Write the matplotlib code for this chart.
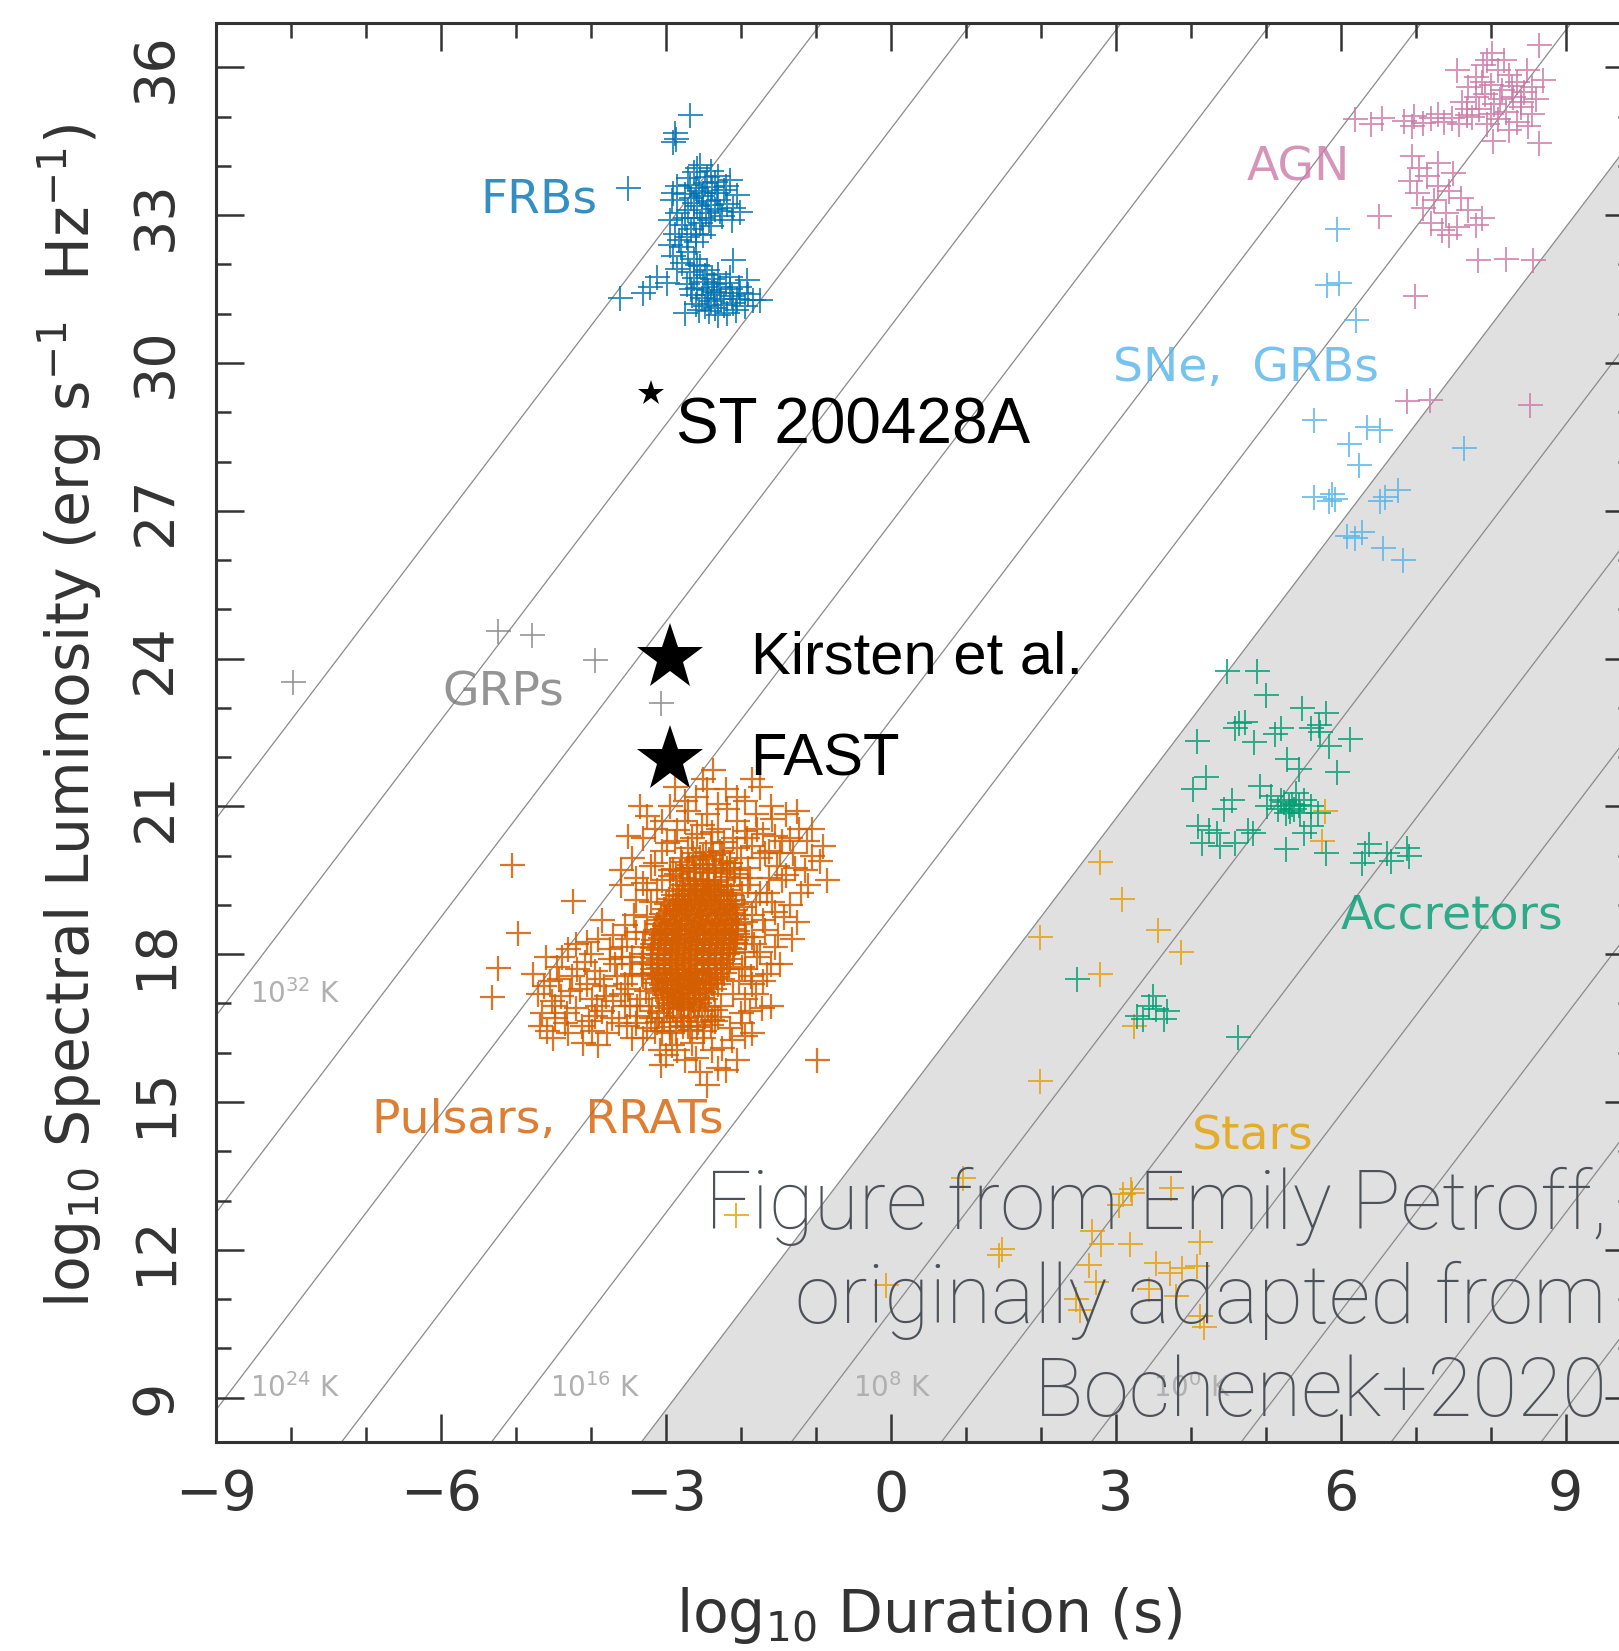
import numpy as np
import matplotlib
matplotlib.use("Agg")
import matplotlib.pyplot as plt
from matplotlib.ticker import MultipleLocator

# (log10 duration [s], log10 spectral luminosity [erg/s/Hz]) per source class
frbs = [
    (-2.68, 35.03), (-2.88, 34.66), (-2.90, 34.49), (-2.86, 34.55), (-3.50, 33.55),
    (-2.55, 34.02), (-2.62, 33.88), (-2.40, 33.90), (-2.30, 33.80), (-2.15, 33.72),
    (-2.71, 33.75), (-2.85, 33.60), (-2.48, 33.65), (-2.60, 33.55), (-2.38, 33.58),
    (-2.22, 33.52), (-2.05, 33.40), (-2.01, 33.07), (-2.75, 33.42), (-2.92, 33.30),
    (-2.66, 33.35), (-2.52, 33.38), (-2.44, 33.28), (-2.30, 33.30), (-2.18, 33.22),
    (-2.58, 33.18), (-2.70, 33.10), (-2.85, 33.05), (-2.95, 32.90), (-2.62, 32.95),
    (-2.47, 33.05), (-2.35, 33.12), (-2.25, 32.98), (-2.12, 32.90), (-2.78, 32.80),
    (-2.66, 32.72), (-2.55, 32.85), (-2.88, 32.62), (-2.40, 32.78), (-2.72, 32.55),
    (-2.60, 32.45), (-2.50, 32.60), (-2.32, 33.45), (-2.56, 33.50), (-2.45, 33.78),
    (-2.58, 33.95), (-2.35, 33.68), (-2.68, 33.62), (-2.50, 33.45), (-2.62, 33.25),
    (-2.40, 33.20), (-2.28, 33.08), (-2.75, 32.95), (-2.52, 32.95), (-2.42, 32.90),
    (-2.60, 32.62), (-2.83, 32.50), (-2.20, 33.60), (-2.10, 33.15), (-2.90, 33.45),
    (-2.80, 32.35), (-2.70, 32.25), (-2.90, 32.18), (-2.62, 32.12), (-2.78, 32.02),
    (-2.85, 31.90), (-2.68, 31.85), (-2.58, 31.98), (-2.11, 32.09), (-2.95, 32.40),
    (-2.55, 31.96), (-2.45, 31.88), (-2.30, 31.80), (-2.62, 31.72), (-2.50, 31.65),
    (-2.38, 31.70), (-2.20, 31.62), (-2.72, 31.60), (-2.58, 31.52), (-2.44, 31.48),
    (-2.32, 31.42), (-2.15, 31.50), (-1.92, 31.69), (-2.01, 31.42), (-2.65, 31.38),
    (-2.52, 31.32), (-2.40, 31.25), (-2.26, 31.30), (-2.10, 31.22), (-1.84, 31.28),
    (-1.75, 31.28), (-2.48, 31.15), (-2.35, 31.12), (-2.19, 31.01), (-2.06, 31.08),
    (-2.75, 31.01), (-2.60, 31.20), (-2.28, 31.55), (-2.12, 31.35), (-1.95, 31.15),
    (-2.42, 31.05), (-2.30, 30.98), (-2.66, 31.50), (-2.02, 31.55), (-2.36, 31.60),
    (-2.45, 31.38), (-2.22, 31.18), (-2.56, 31.08), (-2.05, 31.30), (-1.90, 31.40),
    (-2.36, 31.45), (-2.48, 31.78), (-2.15, 31.75),
    (-3.61, 31.32), (-3.21, 31.55), (-3.12, 31.75), (-3.30, 31.42), (-2.98, 31.62),
]

pulsars = [
    # dense core
    (-3.05, 16.45), (-2.95, 16.52), (-2.86, 16.44), (-2.77, 16.55), (-2.68, 16.47), (-2.58, 16.53), (-2.49, 16.45), (-2.40, 16.56),
    (-3.12, 16.63), (-3.03, 16.70), (-2.94, 16.62), (-2.85, 16.74), (-2.76, 16.65), (-2.66, 16.72), (-2.57, 16.63), (-2.48, 16.75), (-2.39, 16.66), (-2.30, 16.73),
    (-3.18, 16.85), (-3.09, 16.80), (-2.99, 16.91), (-2.52, 16.84), (-2.44, 16.93), (-2.35, 16.86), (-2.26, 16.95),
    (-2.90, 16.88), (-2.80, 16.92), (-2.70, 16.87), (-2.61, 16.91),
    (-2.97, 17.02), (-2.90, 16.97), (-2.83, 17.04), (-2.76, 16.99), (-2.69, 17.03), (-2.62, 16.96), (-2.56, 17.01),
    (-3.04, 17.12), (-2.95, 17.08), (-2.87, 17.13), (-2.79, 17.09), (-2.71, 17.11), (-2.64, 17.07), (-2.55, 17.12), (-2.48, 17.10),
    (-3.10, 17.21), (-3.02, 17.18), (-2.93, 17.23), (-2.85, 17.19), (-2.77, 17.22), (-2.68, 17.17), (-2.60, 17.21), (-2.51, 17.24), (-2.43, 17.19),
    (-3.13, 17.29), (-3.05, 17.32), (-2.97, 17.28), (-2.88, 17.31), (-2.80, 17.27), (-2.71, 17.33), (-2.63, 17.30), (-2.54, 17.27), (-2.46, 17.32), (-2.36, 17.29),
    (-3.15, 17.41), (-3.07, 17.38), (-2.98, 17.43), (-2.90, 17.40), (-2.81, 17.37), (-2.73, 17.42), (-2.64, 17.39), (-2.56, 17.44), (-2.47, 17.38), (-2.38, 17.41), (-2.30, 17.39),
    (-3.17, 17.49), (-3.09, 17.52), (-3.00, 17.48), (-2.92, 17.51), (-2.83, 17.47), (-2.75, 17.53), (-2.66, 17.50), (-2.57, 17.46), (-2.49, 17.51), (-2.40, 17.48), (-2.32, 17.53), (-2.25, 17.50),
    (-3.18, 17.61), (-3.10, 17.58), (-3.01, 17.63), (-2.93, 17.59), (-2.84, 17.62), (-2.76, 17.57), (-2.67, 17.61), (-2.59, 17.64), (-2.50, 17.58), (-2.42, 17.62), (-2.33, 17.59), (-2.23, 17.61),
    (-3.19, 17.69), (-3.11, 17.72), (-3.02, 17.68), (-2.94, 17.71), (-2.85, 17.67), (-2.77, 17.73), (-2.68, 17.70), (-2.60, 17.66), (-2.51, 17.71), (-2.43, 17.68), (-2.34, 17.72), (-2.26, 17.69), (-2.18, 17.71),
    (-3.20, 17.81), (-3.12, 17.78), (-3.03, 17.83), (-2.95, 17.79), (-2.86, 17.82), (-2.78, 17.77), (-2.69, 17.81), (-2.61, 17.84), (-2.52, 17.78), (-2.44, 17.82), (-2.35, 17.79), (-2.27, 17.83), (-2.16, 17.80),
    (-3.19, 17.92), (-3.10, 17.88), (-3.02, 17.91), (-2.93, 17.87), (-2.85, 17.93), (-2.76, 17.89), (-2.68, 17.92), (-2.59, 17.88), (-2.51, 17.91), (-2.42, 17.87), (-2.34, 17.93), (-2.25, 17.89), (-2.14, 17.91),
    (-3.20, 18.01), (-3.11, 17.98), (-3.03, 18.03), (-2.94, 17.99), (-2.86, 18.02), (-2.77, 17.97), (-2.69, 18.01), (-2.60, 18.04), (-2.52, 17.98), (-2.43, 18.02), (-2.35, 17.99), (-2.26, 18.03), (-2.18, 18.00), (-2.11, 18.02),
    (-3.19, 18.12), (-3.10, 18.08), (-3.01, 18.11), (-2.93, 18.07), (-2.84, 18.13), (-2.76, 18.09), (-2.67, 18.12), (-2.58, 18.08), (-2.50, 18.11), (-2.41, 18.07), (-2.33, 18.13), (-2.24, 18.09), (-2.16, 18.12), (-2.09, 18.10),
    (-3.18, 18.21), (-3.09, 18.18), (-3.01, 18.23), (-2.92, 18.19), (-2.84, 18.22), (-2.75, 18.17), (-2.67, 18.21), (-2.58, 18.24), (-2.50, 18.18), (-2.41, 18.22), (-2.33, 18.19), (-2.24, 18.23), (-2.15, 18.20), (-2.08, 18.22),
    (-3.17, 18.29), (-3.08, 18.32), (-3.00, 18.28), (-2.91, 18.31), (-2.83, 18.27), (-2.74, 18.33), (-2.66, 18.30), (-2.57, 18.26), (-2.49, 18.31), (-2.40, 18.28), (-2.32, 18.32), (-2.23, 18.29), (-2.14, 18.31), (-2.06, 18.28),
    (-3.16, 18.41), (-3.07, 18.38), (-2.99, 18.43), (-2.90, 18.39), (-2.82, 18.42), (-2.73, 18.37), (-2.65, 18.41), (-2.56, 18.44), (-2.48, 18.38), (-2.39, 18.42), (-2.31, 18.39), (-2.22, 18.43), (-2.13, 18.40), (-2.05, 18.42),
    (-3.14, 18.49), (-3.05, 18.52), (-2.97, 18.48), (-2.88, 18.51), (-2.80, 18.47), (-2.71, 18.53), (-2.63, 18.50), (-2.54, 18.46), (-2.46, 18.51), (-2.37, 18.48), (-2.29, 18.52), (-2.20, 18.49), (-2.12, 18.51), (-2.05, 18.48),
    (-3.12, 18.61), (-3.03, 18.58), (-2.95, 18.63), (-2.86, 18.59), (-2.78, 18.62), (-2.69, 18.57), (-2.61, 18.61), (-2.52, 18.64), (-2.44, 18.58), (-2.35, 18.62), (-2.27, 18.59), (-2.18, 18.63), (-2.10, 18.60), (-2.04, 18.62),
    (-3.09, 18.69), (-3.01, 18.72), (-2.92, 18.68), (-2.84, 18.71), (-2.75, 18.67), (-2.67, 18.73), (-2.58, 18.70), (-2.50, 18.66), (-2.41, 18.71), (-2.33, 18.68), (-2.24, 18.72), (-2.16, 18.69), (-2.07, 18.71),
    (-3.06, 18.81), (-2.98, 18.78), (-2.89, 18.83), (-2.81, 18.79), (-2.72, 18.82), (-2.64, 18.77), (-2.55, 18.81), (-2.47, 18.84), (-2.38, 18.78), (-2.30, 18.82), (-2.21, 18.79), (-2.13, 18.83), (-2.05, 18.80),
    (-3.03, 18.92), (-2.95, 18.88), (-2.86, 18.91), (-2.78, 18.87), (-2.69, 18.93), (-2.61, 18.89), (-2.52, 18.92), (-2.44, 18.88), (-2.35, 18.91), (-2.27, 18.87), (-2.18, 18.93), (-2.08, 18.90),
    (-3.00, 19.01), (-2.91, 18.98), (-2.83, 19.03), (-2.74, 18.99), (-2.66, 19.02), (-2.57, 18.97), (-2.49, 19.01), (-2.40, 19.04), (-2.32, 18.98), (-2.23, 19.02), (-2.15, 18.99), (-2.07, 19.01),
    (-2.96, 19.12), (-2.87, 19.08), (-2.79, 19.11), (-2.70, 19.07), (-2.62, 19.13), (-2.53, 19.09), (-2.45, 19.12), (-2.36, 19.08), (-2.28, 19.11), (-2.19, 19.07), (-2.10, 19.10),
    (-2.91, 19.21), (-2.82, 19.18), (-2.74, 19.23), (-2.65, 19.19), (-2.57, 19.22), (-2.48, 19.17), (-2.40, 19.21), (-2.31, 19.24), (-2.23, 19.18), (-2.13, 19.21),
    (-2.85, 19.29), (-2.77, 19.32), (-2.68, 19.28), (-2.60, 19.31), (-2.51, 19.27), (-2.43, 19.33), (-2.34, 19.30), (-2.26, 19.26), (-2.17, 19.31),
    (-2.78, 19.41), (-2.70, 19.38), (-2.61, 19.43), (-2.53, 19.39), (-2.44, 19.42), (-2.36, 19.37), (-2.27, 19.41), (-2.19, 19.39),
    (-2.68, 19.49), (-2.60, 19.52), (-2.51, 19.48), (-2.43, 19.51), (-2.34, 19.47), (-2.26, 19.50),
    (-2.95, 19.58), (-2.86, 19.62), (-2.77, 19.55), (-2.18, 19.57), (-2.09, 19.63), (-2.01, 19.55),
    (-2.90, 19.72), (-2.81, 19.68), (-2.72, 19.75), (-2.63, 19.66), (-2.54, 19.73), (-2.45, 19.64),
    (-2.36, 19.76), (-2.27, 19.67), (-2.18, 19.74), (-2.08, 19.70),
    (-2.78, 19.88), (-2.69, 19.82), (-2.60, 19.91), (-2.51, 19.84), (-2.42, 19.93), (-2.33, 19.81),
    (-2.24, 19.89), (-2.15, 19.85),
    (-2.64, 20.05), (-2.55, 19.98), (-2.46, 20.08), (-2.37, 20.01), (-2.28, 20.10),
    (-3.30, 17.55), (-3.32, 17.85), (-3.31, 18.15), (-3.28, 18.45), (-3.25, 18.75), (-3.20, 19.05),
    (-3.12, 19.30), (-3.05, 19.50), (-3.27, 17.25), (-3.22, 16.95),
    (-1.98, 17.75), (-1.95, 18.05), (-1.93, 18.35), (-1.94, 18.65), (-1.96, 18.95), (-1.99, 19.25),
    (-2.02, 17.45), (-2.10, 17.20), (-1.88, 19.55), (-1.85, 18.80), (-1.83, 18.20), (-1.87, 17.55),
    # halo
    (-3.45, 19.95), (-3.30, 20.35), (-3.20, 19.80), (-3.05, 20.10), (-3.15, 20.55), (-2.95, 19.70),
    (-2.88, 20.30), (-2.80, 19.95), (-2.75, 20.70), (-2.70, 20.15), (-2.62, 19.75), (-2.58, 20.45),
    (-2.50, 20.00), (-2.45, 20.85), (-2.40, 20.25), (-2.35, 19.70), (-2.30, 20.55), (-2.25, 20.05),
    (-2.18, 20.95), (-2.15, 19.85), (-2.10, 20.35), (-2.05, 20.70), (-2.00, 19.95), (-1.95, 20.50),
    (-1.90, 19.75), (-1.85, 20.20), (-1.80, 20.85), (-1.75, 19.95), (-1.70, 20.45), (-1.62, 20.10),
    (-1.58, 20.75), (-1.52, 19.80), (-1.45, 20.30), (-1.40, 19.60), (-1.30, 20.05), (-1.22, 20.55),
    (-1.15, 19.70), (-1.12, 20.30), (-1.05, 20.00), (-0.85, 19.51), (-0.95, 19.90),
    (-2.37, 21.74), (-2.88, 21.40), (-1.75, 21.40), (-2.60, 21.20), (-2.20, 21.35), (-2.95, 21.00),
    (-1.95, 21.10), (-2.50, 21.55), (-1.60, 21.00), (-2.75, 21.10), (-3.25, 20.80), (-2.30, 21.05),
    (-1.40, 20.85), (-3.50, 20.40), (-1.10, 19.40),
    (-3.40, 19.55), (-3.15, 19.85), (-2.98, 20.25), (-2.85, 20.52), (-2.65, 20.35), (-2.52, 20.62),
    (-2.38, 20.48), (-2.22, 20.28), (-2.05, 20.15), (-1.92, 20.35), (-1.78, 20.55), (-1.68, 20.05),
    (-1.55, 20.40), (-1.48, 20.05), (-1.35, 20.35), (-1.28, 19.75), (-1.62, 19.55), (-1.75, 19.25),
    (-1.58, 19.05), (-1.42, 18.75), (-1.68, 18.50), (-1.55, 18.15), (-1.78, 17.95), (-1.65, 17.60),
    (-1.80, 17.20), (-1.72, 16.90), (-1.98, 16.60), (-2.12, 16.25), (-2.38, 16.05), (-2.65, 16.20),
    (-2.92, 16.15), (-3.15, 16.45), (-3.40, 16.60), (-3.48, 16.95), (-3.55, 17.40), (-3.45, 17.95),
    (-3.52, 18.30), (-3.42, 18.80), (-3.30, 19.45), (-3.60, 19.70), (-2.70, 20.90), (-2.05, 21.20),
    (-1.85, 21.55), (-2.45, 21.35), (-3.05, 20.70), (-3.35, 21.00), (-1.25, 20.90), (-1.05, 20.55),
    (-0.90, 20.20), (-1.20, 19.25), (-1.32, 18.30), (-1.48, 17.80), (-1.60, 16.95), (-1.85, 16.40),
    (-2.20, 15.65), (-2.55, 15.60), (-2.75, 15.85), (-3.00, 15.95),
    (-1.90, 19.40), (-1.80, 19.05), (-1.70, 18.70), (-1.85, 18.35), (-1.65, 19.25), (-1.55, 18.85),
    (-1.75, 18.05), (-1.95, 17.70), (-1.60, 17.80), (-1.45, 19.50), (-1.35, 19.00), (-1.50, 18.40),
    (-1.85, 17.40), (-1.95, 17.10), (-1.25, 18.65), (-1.70, 17.45), (-1.88, 16.85),
    (-3.20, 16.70), (-3.06, 15.75), (-2.95, 16.40), (-2.85, 16.05), (-2.70, 16.55), (-2.60, 15.90),
    (-2.45, 15.35), (-2.50, 16.30), (-2.35, 16.65), (-2.25, 16.10), (-2.15, 16.50), (-2.05, 15.85),
    (-1.95, 16.35), (-2.30, 15.70), (-2.80, 16.70), (-0.99, 15.86), (-3.30, 16.30), (-2.00, 16.80),
    # short-duration tail
    (-4.77, 17.60), (-4.70, 17.20), (-4.65, 16.80), (-4.60, 17.95), (-4.59, 16.44), (-4.55, 17.45),
    (-4.48, 16.95), (-4.45, 17.75), (-4.40, 17.15), (-4.35, 16.60), (-4.30, 18.10), (-4.25, 17.55),
    (-4.20, 16.90), (-4.15, 17.30), (-4.10, 16.20), (-4.08, 17.85), (-4.02, 16.65), (-3.98, 17.10),
    (-3.95, 17.65), (-3.90, 18.30), (-3.85, 16.85), (-3.82, 17.35), (-3.78, 16.40), (-3.75, 17.90),
    (-3.70, 17.05), (-3.65, 17.55), (-3.62, 16.60), (-3.58, 18.15), (-3.55, 16.95), (-3.50, 17.30),
    (-3.48, 17.80), (-3.45, 16.30), (-3.40, 18.45), (-3.38, 16.75), (-3.35, 17.10), (-3.32, 17.60),
    (-3.30, 18.00), (-3.25, 16.50), (-3.40, 19.10), (-3.55, 18.60), (-3.70, 18.40), (-3.60, 19.40),
    (-3.25, 19.30), (-4.50, 16.30), (-4.30, 16.40), (-3.08, 16.05), (-3.90, 16.15), (-4.00, 18.00),
    (-4.20, 18.20), (-3.85, 18.70),
    (-4.62, 17.35), (-4.52, 17.05), (-4.42, 17.50), (-4.32, 16.80), (-4.28, 17.25), (-4.18, 17.70),
    (-4.12, 16.55), (-4.05, 17.40), (-3.92, 16.95), (-3.88, 17.50), (-3.80, 17.15), (-3.72, 16.70),
    (-3.68, 17.80), (-3.60, 17.20), (-3.52, 16.55), (-3.45, 17.60), (-3.38, 16.95), (-4.38, 17.95),
    (-3.98, 16.45), (-4.68, 16.55), (-3.58, 17.95), (-4.05, 18.25), (-3.75, 18.10), (-4.48, 16.70),
    (-3.95, 16.75),
    (-5.05, 19.82), (-4.24, 19.07), (-4.97, 18.44), (-5.24, 17.73), (-5.32, 17.13),
]

agn = [
    (8.64, 36.45), (7.95, 36.15),
    (8.02, 36.30), (7.90, 36.05), (8.10, 35.95), (8.25, 35.85), (7.80, 35.80), (8.35, 35.70),
    (8.00, 35.65), (7.70, 35.60), (8.15, 35.55), (8.45, 35.50), (7.92, 35.45), (8.30, 35.40),
    (8.60, 35.35), (7.62, 35.30), (8.05, 35.25), (8.40, 35.20), (7.85, 35.15), (8.20, 35.10),
    (8.55, 35.05), (7.75, 35.00), (8.10, 34.95), (8.35, 34.90), (7.95, 34.85), (8.50, 34.80),
    (8.25, 34.72), (8.03, 34.50), (8.64, 34.46), (8.70, 35.75), (8.18, 36.15), (7.55, 35.95),
    (8.48, 35.95), (7.88, 35.70), (8.28, 35.62), (8.12, 35.35), (7.80, 35.40), (8.40, 35.30),
    (8.55, 35.60), (8.00, 35.05), (7.68, 35.15),
    (6.19, 34.95), (6.40, 34.85), (6.55, 34.98), (6.85, 34.92), (6.98, 35.02), (7.10, 34.88),
    (7.20, 34.97), (7.30, 35.05), (7.38, 34.90), (7.48, 34.98), (7.58, 34.86), (7.68, 35.03),
    (6.95, 34.80),
    (6.95, 34.20), (7.05, 33.95), (6.92, 33.70), (7.15, 33.80), (7.30, 33.60), (7.02, 33.45),
    (7.45, 33.50), (7.25, 33.30), (7.60, 33.35), (7.10, 33.15), (7.40, 33.05), (7.70, 33.10),
    (7.20, 32.85), (7.35, 32.70), (7.55, 32.75), (7.80, 32.80), (7.45, 32.60), (7.88, 32.95),
    (7.30, 34.05), (7.50, 33.85),
    (6.51, 32.98), (7.83, 32.09), (8.20, 32.12), (8.56, 32.09), (6.99, 31.35),
    (6.88, 29.22), (7.19, 29.25), (8.53, 29.14),
]

sne_grbs = [
    (5.95, 32.72), (5.82, 31.58), (5.98, 31.62), (6.21, 30.88), (5.64, 28.84), (6.35, 28.71),
    (6.53, 28.63), (6.11, 28.36), (6.24, 27.93), (7.64, 28.28), (5.64, 27.28), (5.88, 27.35),
    (5.85, 27.20), (5.93, 27.24), (6.77, 27.43), (6.53, 27.20), (6.59, 27.28), (6.08, 26.48),
    (6.29, 26.56), (6.19, 26.45), (6.56, 26.25), (6.83, 26.00),
]

accretors = [
    (4.49, 23.74), (4.88, 23.74), (5.00, 23.27), (5.48, 23.00), (5.80, 22.90), (5.71, 22.66),
    (4.64, 22.70), (4.59, 22.60), (4.73, 22.72), (5.21, 22.60), (5.12, 22.46), (4.85, 22.30),
    (4.08, 22.32), (6.13, 22.36), (5.84, 22.22), (5.72, 22.50), (5.60, 22.60), (5.95, 21.69),
    (5.29, 21.96), (5.45, 21.75), (4.20, 21.59), (4.03, 21.35), (4.93, 21.41), (5.07, 21.21),
    (5.21, 21.14), (5.31, 21.00), (5.46, 20.87), (5.51, 21.14), (5.60, 21.00), (5.41, 21.28),
    (5.27, 20.87), (5.16, 20.94), (5.02, 21.00), (5.70, 20.87), (4.55, 21.14), (4.45, 20.94),
    (4.10, 20.60), (4.25, 20.53), (4.35, 20.46), (4.15, 20.26), (4.39, 20.19), (4.59, 20.26),
    (4.83, 20.46), (4.76, 20.53), (5.27, 20.13), (5.51, 20.46), (5.80, 20.06), (5.60, 20.60),
    (6.33, 20.06), (6.38, 20.23), (6.62, 20.06), (6.89, 20.16), (6.91, 19.99), (6.28, 19.86),
    (6.67, 19.89), (5.35, 21.05), (5.38, 20.95), (5.25, 21.08), (5.44, 21.02), (5.33, 20.90),
    (2.48, 17.49), (3.28, 16.74), (3.45, 16.95), (3.50, 17.15), (3.54, 16.88), (3.68, 16.85),
    (3.65, 16.68), (3.36, 16.68), (4.63, 16.31),
]

stars = [
    (2.79, 19.87), (3.09, 19.13), (1.99, 18.34), (3.56, 18.50), (3.87, 18.04), (2.79, 17.59),
    (3.25, 16.54), (1.99, 15.42), (5.79, 20.90), (5.75, 20.30),
    (0.97, 13.45), (3.21, 13.23), (3.10, 13.13), (3.74, 13.26), (3.22, 13.15), (1.48, 12.01),
    (2.69, 12.38), (2.81, 12.11), (3.19, 12.11), (2.65, 11.70), (3.54, 11.74), (3.72, 11.54),
    (3.89, 11.64), (4.12, 12.15), (4.09, 11.67), (2.74, 11.34), (2.47, 11.00), (3.45, 11.20),
    (3.80, 11.07), (4.12, 10.66), (-2.06, 12.71), (1.45, 11.89), (-0.07, 11.28), (2.53, 10.78),
    (4.18, 10.43), (3.05, 12.92),
]

grps = [(-7.97, 23.53), (-5.24, 24.55), (-4.79, 24.47), (-3.95, 23.98), (-3.07, 23.10)]

# SGR 1935+2154 bursts
burst_names = ["ST 200428A", "Kirsten et al.", "FAST"]
burst_logt = [-3.20, -2.95, -2.95]
burst_logl = [29.40, 24.02, 21.94]

# constant brightness temperature lines, log10(T_B / K)
tb_lines = [-12, -8, -4, 0, 4, 8, 12, 16, 20, 24, 28, 32, 36]
tb_offset = 2.75
compton_limit = 12

colors = {
    "FRBs": "#0072b2",
    "AGN": "#cc79a7",
    "SNe": "#56b4e9",
    "Pulsars": "#d55e00",
    "Accretors": "#009e73",
    "Stars": "#e69f00",
    "GRPs": "#7a7a7a",
}

W, H = 1619, 1651
fig = plt.figure(figsize=(W / 100, H / 100), dpi=100)
ax = fig.add_axes([216 / W, 1 - 1442 / H, (1633 - 216) / W, (1442 - 23) / H])
ax.set_xlim(-9, 9.9)
ax.set_ylim(8.1, 36.9)

xs = np.array([-12.0, 12.0])
ax.fill_between(xs, 0, 2 * xs + compton_limit + tb_offset, color="#e0e0e0", lw=0, zorder=0.5)
for tb in tb_lines:
    ax.plot(xs, 2 * xs + tb + tb_offset, color="#8a8a8a", lw=0.9, zorder=1)

tb_kw = dict(color="#b0b0b0", fontsize=20, va="center", ha="left", zorder=1.5)
ax.text(-8.55, 17.2, r"10$^{32}$ K", **tb_kw)
for lbl, xpos in [("24", -8.55), ("16", -4.55), ("8", -0.5), ("0", 3.5)]:
    ax.text(xpos, 9.2, r"10$^{%s}$ K" % lbl, **tb_kw)


def crosses(pts, color, mew=1.4, alpha=0.8):
    a = np.array(pts)
    ax.plot(a[:, 0], a[:, 1], "+", color=color, ms=18, mew=mew, alpha=alpha, zorder=3)


crosses(stars, colors["Stars"])
crosses(accretors, colors["Accretors"])
crosses(sne_grbs, colors["SNe"])
crosses(agn, colors["AGN"])
crosses(pulsars, colors["Pulsars"], mew=1.6, alpha=0.85)
crosses(frbs, colors["FRBs"])
crosses(grps, colors["GRPs"], mew=1.2)

ax.plot(burst_logt[0], burst_logl[0], "*", color="k", ms=19, mew=0, zorder=6)
ax.plot(burst_logt[1:], burst_logl[1:], "*", color="k", ms=50, mew=0, zorder=6)
bk = dict(family="Liberation Sans", color="k", va="center", ha="left", zorder=6)
ax.text(-2.86, 28.71, burst_names[0], fontsize=46, **bk)
ax.text(-1.87, 24.02, burst_names[1], fontsize=43, **bk)
ax.text(-1.87, 21.94, burst_names[2], fontsize=43, **bk)

lab = dict(fontsize=34, ha="center", va="center", zorder=4, alpha=0.8)
ax.text(-4.70, 33.31, "FRBs", color=colors["FRBs"], **lab)
ax.text(5.44, 33.95, "AGN", color=colors["AGN"], **lab)
ax.text(4.74, 29.89, "SNe,  GRBs", color=colors["SNe"], **lab)
ax.text(-5.17, 23.31, "GRPs", color=colors["GRPs"], **lab)
ax.text(-4.58, 14.62, "Pulsars,  RRATs", color=colors["Pulsars"], **lab)
ax.text(7.48, 18.77, "Accretors", color=colors["Accretors"], **lab)
ax.text(4.83, 14.30, "Stars", color=colors["Stars"], **lab)

# axes frame and ticks
for sp in ax.spines.values():
    sp.set_linewidth(2.2)
    sp.set_color("#333333")
ax.xaxis.set_major_locator(MultipleLocator(3))
ax.xaxis.set_minor_locator(MultipleLocator(1))
ax.yaxis.set_major_locator(MultipleLocator(3))
ax.yaxis.set_minor_locator(MultipleLocator(1))
ax.tick_params(which="both", direction="in", top=True, right=True, color="#333333", width=1.8)
ax.tick_params(which="major", length=20)
ax.tick_params(which="minor", length=11)
ax.tick_params(axis="x", labelsize=40, pad=19, labelcolor="#333333")
ax.tick_params(axis="y", labelsize=40, pad=24, labelcolor="#333333")
ax.set_xticks([-9, -6, -3, 0, 3, 6, 9])
ax.set_xticklabels(["\u22129", "\u22126", "\u22123", "0", "3", "6", "9"])
ax.set_yticks([9, 12, 15, 18, 21, 24, 27, 30, 33, 36])
ax.set_yticklabels([str(v) for v in range(9, 37, 3)], rotation=90, va="center")

fig.text(90 / W, 1 - 716 / H, r"log$_{10}$ Spectral Luminosity (erg s$^{-1}$  Hz$^{-1}$)",
         rotation=90, rotation_mode="anchor", ha="center", va="baseline",
         fontsize=42, color="#333333")
fig.text(929 / W, 1 - 1632 / H, r"log$_{10}$ Duration (s)", ha="center", va="baseline",
         fontsize=42, color="#333333")

note = dict(ha="right", va="baseline", fontsize=59, family="Roboto", fontweight="light",
            color="#4d525a", zorder=10)
fig.text(1607 / W, 1 - 1229 / H, "Figure from Emily Petroff,", **note)
fig.text(1607 / W, 1 - 1323 / H, "originally adapted from", **note)
fig.text(1607 / W, 1 - 1416 / H, "Bochenek+2020", **note)

fig.savefig("out.png", dpi=100)
